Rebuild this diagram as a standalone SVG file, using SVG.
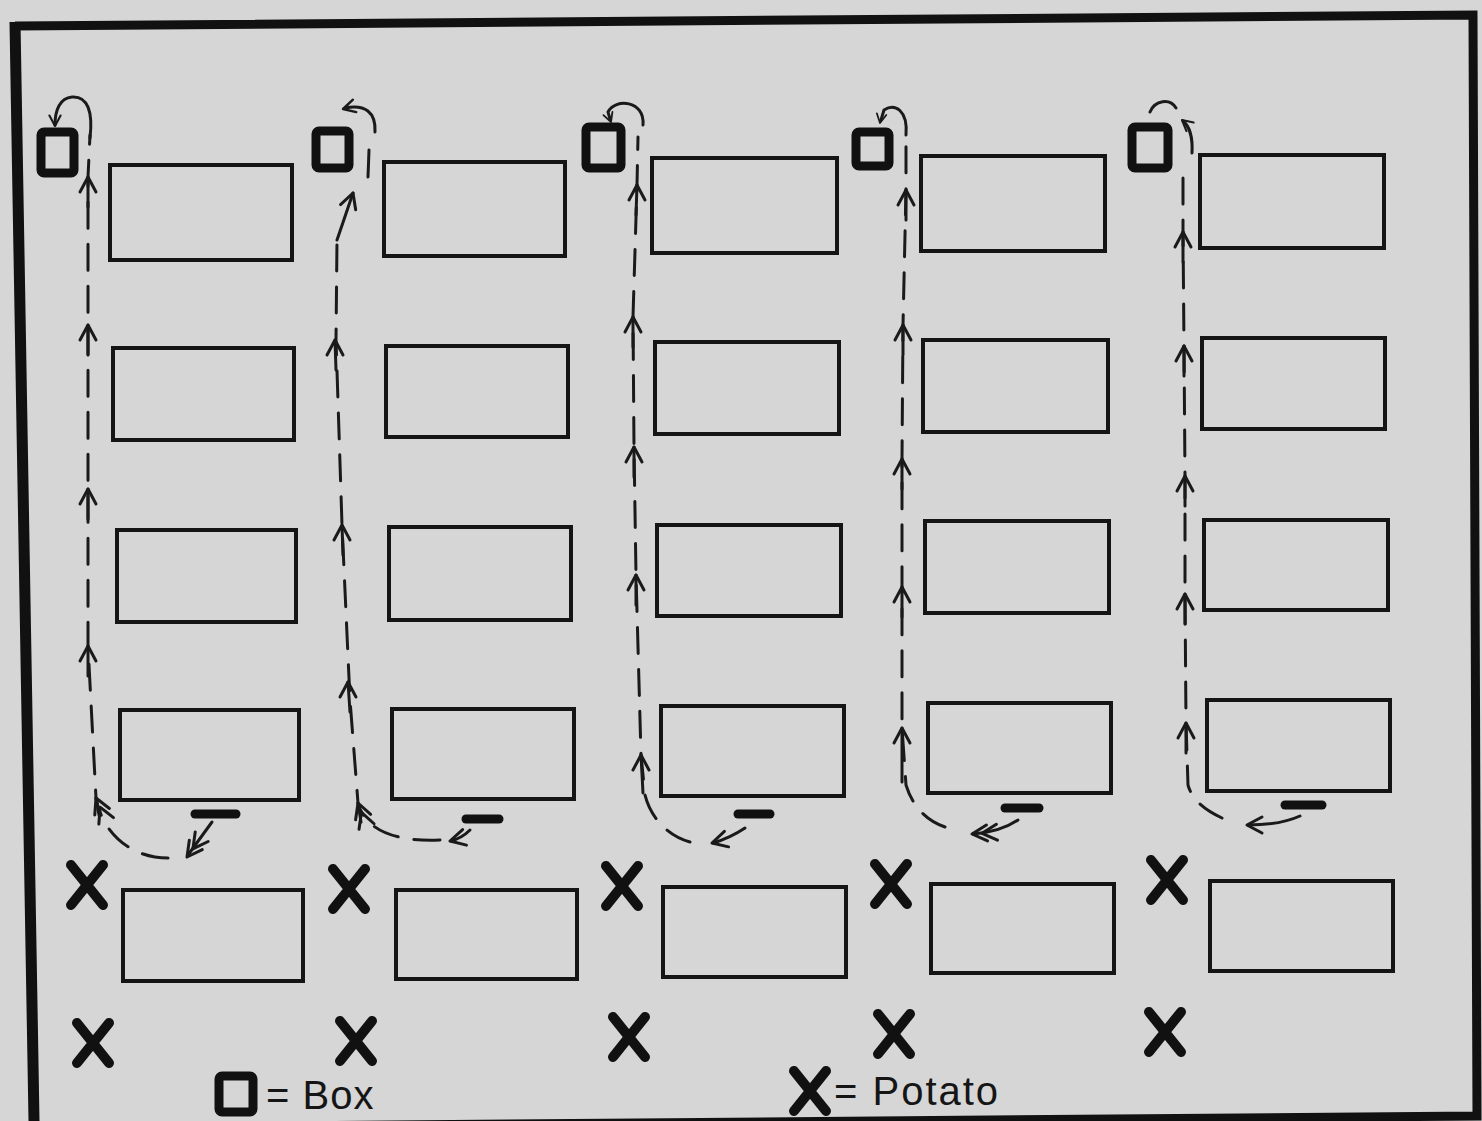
<svg xmlns="http://www.w3.org/2000/svg" xmlns:xlink="http://www.w3.org/1999/xlink" width="1482" height="1121" viewBox="0 0 1482 1121">
<style>
.bed{fill:none;stroke:#151515;stroke-width:4}
.box{fill:none;stroke:#111;stroke-width:9;stroke-linejoin:round}
.pot{fill:none;stroke:#111;stroke-width:10;stroke-linecap:round}
.bar{stroke:#111;stroke-width:9;stroke-linecap:round}
.route{fill:none;stroke:#1a1a1a;stroke-width:3;stroke-dasharray:26 16;stroke-linecap:round}
.solid{fill:none;stroke:#1a1a1a;stroke-width:3;stroke-linecap:round}
.chev{fill:none;stroke:#1a1a1a;stroke-width:3;stroke-linecap:round;stroke-linejoin:round}
.label{font-family:"Liberation Sans",Arial,sans-serif;font-size:40px;fill:#151515}
</style>
<defs>
<path id="chev" class="chev" d="M-8,15 L0,0 L8,15"/>
<path id="dchev" class="chev" d="M-8,15 L0,0 L8,15 M-8,25 L0,10 L8,25"/>
<path id="x" class="pot" d="M-16,-20 L16,20 M16,-20 L-16,20"/>
</defs>
<rect width="1482" height="1121" fill="#d6d6d6"/>
<g id="frame">
<path d="M15,26 L1473,15 L1477,1116 L34,1128" fill="none" stroke="#111" stroke-width="9"/>
<path d="M15,22 L34,1121" fill="none" stroke="#111" stroke-width="11"/>
</g>
<g id="beds">
<g id="bed-1-1"><rect class="bed" x="110" y="165" width="182" height="95"/></g>
<g id="bed-1-2"><rect class="bed" x="113" y="348" width="181" height="92"/></g>
<g id="bed-1-3"><rect class="bed" x="117" y="530" width="179" height="92"/></g>
<g id="bed-1-4"><rect class="bed" x="120" y="710" width="179" height="90"/></g>
<g id="bed-1-5"><rect class="bed" x="123" y="890" width="180" height="91"/></g>
<g id="bed-2-1"><rect class="bed" x="384" y="162" width="181" height="94"/></g>
<g id="bed-2-2"><rect class="bed" x="386" y="346" width="182" height="91"/></g>
<g id="bed-2-3"><rect class="bed" x="389" y="527" width="182" height="93"/></g>
<g id="bed-2-4"><rect class="bed" x="392" y="709" width="182" height="90"/></g>
<g id="bed-2-5"><rect class="bed" x="396" y="890" width="181" height="89"/></g>
<g id="bed-3-1"><rect class="bed" x="652" y="158" width="185" height="95"/></g>
<g id="bed-3-2"><rect class="bed" x="655" y="342" width="184" height="92"/></g>
<g id="bed-3-3"><rect class="bed" x="657" y="525" width="184" height="91"/></g>
<g id="bed-3-4"><rect class="bed" x="661" y="706" width="183" height="90"/></g>
<g id="bed-3-5"><rect class="bed" x="663" y="887" width="183" height="90"/></g>
<g id="bed-4-1"><rect class="bed" x="921" y="156" width="184" height="95"/></g>
<g id="bed-4-2"><rect class="bed" x="923" y="340" width="185" height="92"/></g>
<g id="bed-4-3"><rect class="bed" x="925" y="521" width="184" height="92"/></g>
<g id="bed-4-4"><rect class="bed" x="928" y="703" width="183" height="90"/></g>
<g id="bed-4-5"><rect class="bed" x="931" y="884" width="183" height="89"/></g>
<g id="bed-5-1"><rect class="bed" x="1200" y="155" width="184" height="93"/></g>
<g id="bed-5-2"><rect class="bed" x="1202" y="338" width="183" height="91"/></g>
<g id="bed-5-3"><rect class="bed" x="1204" y="520" width="184" height="90"/></g>
<g id="bed-5-4"><rect class="bed" x="1207" y="700" width="183" height="91"/></g>
<g id="bed-5-5"><rect class="bed" x="1210" y="881" width="183" height="90"/></g>
</g>
<g id="boxes">
<g id="box-1"><rect class="box" x="41" y="132" width="33" height="41" rx="3"/></g>
<g id="box-2"><rect class="box" x="316" y="131" width="33" height="37" rx="3"/></g>
<g id="box-3"><rect class="box" x="586" y="127" width="35" height="41" rx="3"/></g>
<g id="box-4"><rect class="box" x="856" y="132" width="33" height="34" rx="3"/></g>
<g id="box-5"><rect class="box" x="1132" y="127" width="36" height="41" rx="3"/></g>
</g>
<g id="bars">
<g id="bar-1"><line class="bar" x1="195" y1="814" x2="236" y2="814"/></g>
<g id="bar-2"><line class="bar" x1="466" y1="819" x2="499" y2="819"/></g>
<g id="bar-3"><line class="bar" x1="738" y1="814" x2="770" y2="814"/></g>
<g id="bar-4"><line class="bar" x1="1005" y1="808" x2="1039" y2="808"/></g>
<g id="bar-5"><line class="bar" x1="1285" y1="805" x2="1322" y2="805"/></g>
</g>
<g id="potatoes">
<g id="potato-1a"><use xlink:href="#x" x="87" y="885"/></g>
<g id="potato-2a"><use xlink:href="#x" x="349" y="889"/></g>
<g id="potato-3a"><use xlink:href="#x" x="622" y="886"/></g>
<g id="potato-4a"><use xlink:href="#x" x="891" y="884"/></g>
<g id="potato-5a"><use xlink:href="#x" x="1167" y="880"/></g>
<g id="potato-1b"><use xlink:href="#x" x="93" y="1043"/></g>
<g id="potato-2b"><use xlink:href="#x" x="356" y="1041"/></g>
<g id="potato-3b"><use xlink:href="#x" x="629" y="1037"/></g>
<g id="potato-4b"><use xlink:href="#x" x="894" y="1034"/></g>
<g id="potato-5b"><use xlink:href="#x" x="1165" y="1032"/></g>
</g>
<g id="connectors">
<!-- column 1 -->
<path class="solid" d="M212,822 L188,855"/>
<use xlink:href="#dchev" transform="translate(187,857) rotate(-144)"/>
<path class="route" d="M168,858 C130,858 102,832 96,798 L88,646 L88,177 L90,135"/>
<path class="solid" d="M96,798 L99,815 M88,646 L88,676 M88,489 L88,519 M88,325 L88,355 M88,177 L88,207"/>
<use xlink:href="#dchev" transform="translate(96,798) rotate(-24)"/>
<use xlink:href="#chev" transform="translate(88,646)"/>
<use xlink:href="#chev" transform="translate(88,489)"/>
<use xlink:href="#chev" transform="translate(88,325)"/>
<use xlink:href="#chev" transform="translate(88,177)"/>
<path class="solid" d="M90,138 C93,112 88,96 72,97 C60,98 55,110 55,125"/>
<use xlink:href="#chev" transform="translate(55,126) rotate(180) scale(0.7)"/>
<!-- column 2 -->
<path class="solid" d="M470,830 Q462,838 451,841"/>
<use xlink:href="#chev" transform="translate(450,841) rotate(-104)"/>
<path class="route" d="M440,840 C395,842 365,830 358,803 L350,700 L342,525 L336,340 L337,240"/>
<path class="solid" d="M358,803 L361,822 M348,682 L350,712 M342,525 L343,555 M335,340 L336,370 M337,240 L353,193"/>
<use xlink:href="#dchev" transform="translate(358,803) rotate(-20)"/>
<use xlink:href="#chev" transform="translate(348,682)"/>
<use xlink:href="#chev" transform="translate(342,525)"/>
<use xlink:href="#chev" transform="translate(335,340)"/>
<use xlink:href="#chev" transform="translate(353,193) rotate(19)"/>
<path class="solid" d="M368,177 L369,150"/>
<path class="solid" d="M375,132 C376,112 365,104 345,108"/>
<use xlink:href="#chev" transform="translate(343,109) rotate(-105) scale(0.8)"/>
<!-- column 3 -->
<path class="solid" d="M745,828 Q730,838 713,843"/>
<use xlink:href="#chev" transform="translate(712,843) rotate(-105)"/>
<path class="route" d="M690,842 C665,835 650,815 645,795 L641,755 L636,575 L634,447 L633,317 L637,185 L638,137"/>
<path class="solid" d="M641,755 L643,793 M636,575 L636,605 M634,447 L634,477 M633,317 L633,347 M637,185 L636,215"/>
<use xlink:href="#chev" transform="translate(641,755)"/>
<use xlink:href="#chev" transform="translate(636,575)"/>
<use xlink:href="#chev" transform="translate(634,447)"/>
<use xlink:href="#chev" transform="translate(633,317)"/>
<use xlink:href="#chev" transform="translate(637,185)"/>
<path class="solid" d="M643,125 C645,100 615,98 608,112 L610,119"/>
<use xlink:href="#chev" transform="translate(611,122) rotate(160) scale(0.6)"/>
<!-- column 4 -->
<path class="solid" d="M1018,820 Q1000,832 973,834"/>
<use xlink:href="#dchev" transform="translate(972,834) rotate(-94)"/>
<path class="route" d="M945,827 C925,820 912,805 906,785 L902,728 L902,587 L902,459 L903,325 L906,190 L906,140"/>
<path class="solid" d="M902,728 L902,782 M902,587 L902,617 M902,459 L902,489 M903,325 L903,355 M906,190 L906,220"/>
<use xlink:href="#chev" transform="translate(902,728)"/>
<use xlink:href="#chev" transform="translate(902,587)"/>
<use xlink:href="#chev" transform="translate(902,459)"/>
<use xlink:href="#chev" transform="translate(903,325)"/>
<use xlink:href="#chev" transform="translate(906,190)"/>
<path class="solid" d="M906,135 C908,110 895,103 884,110 L881,120"/>
<use xlink:href="#chev" transform="translate(880,123) rotate(190) scale(0.6)"/>
<!-- column 5 -->
<path class="solid" d="M1300,816 Q1280,825 1248,825"/>
<use xlink:href="#chev" transform="translate(1247,825) rotate(-90)"/>
<path class="route" d="M1222,818 C1205,810 1192,800 1188,785 L1186,723 L1185,594 L1185,476 L1184,346 L1183,232 L1183,177"/>
<path class="solid" d="M1186,723 L1186,753 M1185,594 L1185,624 M1185,476 L1185,506 M1184,346 L1184,376 M1183,232 L1183,262"/>
<use xlink:href="#chev" transform="translate(1186,723)"/>
<use xlink:href="#chev" transform="translate(1185,594)"/>
<use xlink:href="#chev" transform="translate(1185,476)"/>
<use xlink:href="#chev" transform="translate(1184,346)"/>
<use xlink:href="#chev" transform="translate(1183,232)"/>
<path class="solid" d="M1192,153 C1193,135 1188,125 1183,121"/>
<use xlink:href="#chev" transform="translate(1182,120) rotate(-50) scale(0.7)"/>
<path class="solid" d="M1150,112 C1155,100 1170,98 1176,108"/>
</g>
<g id="legend">
<g id="legend-box"><rect class="box" x="219" y="1076" width="34" height="36" rx="3"/><text class="label" x="266" y="1109" letter-spacing="1">= Box</text></g>
<g id="legend-potato"><use xlink:href="#x" x="810" y="1091"/><text class="label" x="834" y="1105" letter-spacing="2">= Potato</text></g>
</g>
</svg>
